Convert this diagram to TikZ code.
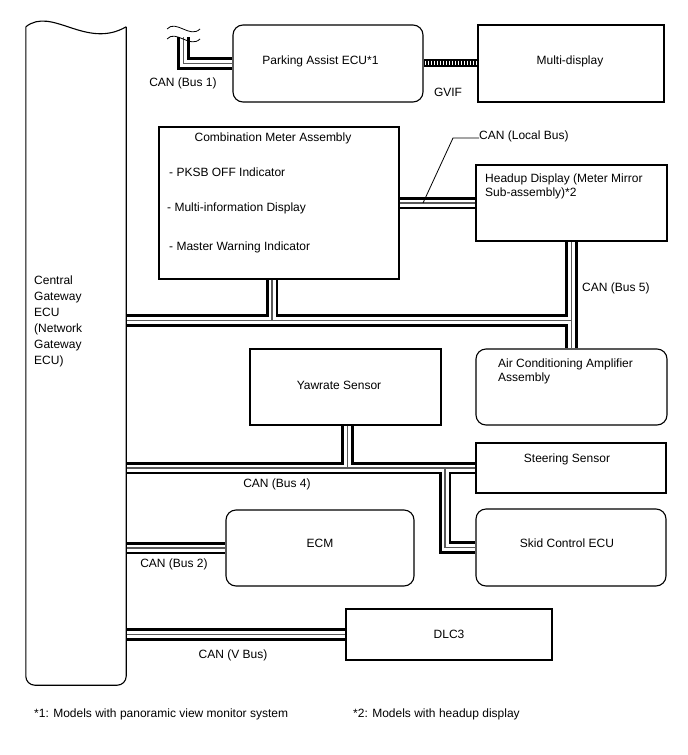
\documentclass[tikz,border=0pt]{standalone}
\usepackage{fontspec}
\setmainfont{Liberation Sans}
\usetikzlibrary{calc,backgrounds}
\begin{document}
\begin{tikzpicture}[x=1pt,y=-1pt,
  bx/.style={draw, line width=1.1pt, inner sep=0pt},
  rbx/.style={bx, rounded corners=10pt},
  txt/.style={font=\fontsize{12}{14}\selectfont, inner sep=0pt, text height=8.6pt, text depth=2.4pt},
  mtxt/.style={font=\fontsize{12}{14}\selectfont, inner sep=0pt, align=left, anchor=north west},
  cableA/.style={line width=12.5pt, black},
  cableB/.style={line width=7pt, white},
  cableC/.style={line width=1.3pt, black!65},
  thinline/.style={line width=0.8pt}]
\useasboundingbox (0,0) rectangle (688,755);

% ---- Central gateway ----
\node[minimum width=100pt, minimum height=658pt, inner sep=0pt] (gw) at (76,356) {};
\draw[line width=1.1pt, rounded corners=9pt] (gw.north east) -- (gw.south east) -- (gw.south west) -- (gw.north west);
\draw[line width=1.1pt] (gw.north west) .. controls (52,6) and (86,50) .. (gw.north east);
\node[mtxt, font=\fontsize{12}{16}\selectfont] (gwt) at (34,276) {Central\\Gateway\\ECU\\(Network\\Gateway\\ECU)};

% ---- boxes ----
\node[rbx, minimum width=190pt, minimum height=77pt] (pa) at (328,63.5) {};
\node[txt] (pat) at (320.5,61) {Parking Assist ECU*1};
\node[bx, minimum width=186pt, minimum height=77pt] (md) at (571,63.5) {};
\node[txt] (mdt) at (570,61) {Multi-display};

\node[bx, minimum width=240pt, minimum height=152pt] (cm) at (279,203) {};
\node[txt] (cmt) at (273,138) {Combination Meter Assembly};
\node[txt, anchor=west] (cm1) at (169,173) {- PKSB OFF Indicator};
\node[txt, anchor=west] (cm2) at (167,208) {- Multi-information Display};
\node[txt, anchor=west] (cm3) at (169,247) {- Master Warning Indicator};

\node[bx, minimum width=191pt, minimum height=76pt] (hud) at (571.5,203) {};
\node[mtxt] (hudt) at (485,173.5) {Headup Display (Meter Mirror\\Sub-assembly)*2};

\node[rbx, minimum width=191pt, minimum height=76pt] (ac) at (571.5,387) {};
\node[mtxt] (act) at (498,358.5) {Air Conditioning Amplifier\\Assembly};

\node[bx, minimum width=191pt, minimum height=76pt] (yaw) at (345.5,387) {};
\node[txt] (yawt) at (339,386) {Yawrate Sensor};

\node[bx, minimum width=190pt, minimum height=50pt] (steer) at (571,468) {};
\node[txt] (steert) at (567,459) {Steering Sensor};

\node[rbx, minimum width=190pt, minimum height=77pt] (skid) at (571,547.5) {};
\node[txt] (skidt) at (567,544) {Skid Control ECU};

\node[rbx, minimum width=188pt, minimum height=76pt] (ecm) at (320,548) {};
\node[txt] (ecmt) at (320,544) {ECM};

\node[bx, minimum width=206pt, minimum height=51pt] (dlc) at (449,634.5) {};
\node[txt] (dlct) at (449,635) {DLC3};

% ---- junction / free-end coordinates ----
\coordinate (b1top) at (183.5,37);
\coordinate (j5) at (hud.south |- 0,320.5);
\coordinate (jc) at (272,320.5);
\coordinate (jy) at (347.5,468);
\coordinate (js) at (445,468);

% ---- cables (twisted pairs) ----
\begin{pgfonlayer}{background}
\foreach \ly in {cableA,cableB,cableC}{
  \draw[\ly] (b1top) -- (b1top |- pa.west) -- (pa.west);
  \draw[\ly] (cm.east) -- (hud.west);
  \draw[\ly] (hud.south) -- (ac.north);
  \draw[\ly] (gw.east |- j5) -- (j5);
  \draw[\ly] (jc |- cm.south) -- (jc);
  \draw[\ly] (gw.east |- steer.west) -- (steer.west);
  \draw[\ly] (jy |- yaw.south) -- (jy);
  \draw[\ly] (js) -- (js |- skid.west) -- (skid.west);
  \draw[\ly] (gw.east |- ecm.west) -- (ecm.west);
  \draw[\ly] (gw.east |- dlc.west) -- (dlc.west);
}
\end{pgfonlayer}

% ---- wave (break) symbol on Bus 1 ----
\draw[thinline] (167,29) .. controls (176,19) and (190,39) .. (200,29);
\draw[thinline] (167,39) .. controls (176,29) and (190,49) .. (200,39);

% ---- GVIF striped link ----
\fill[black] ($(pa.east)+(0,-4.5)$) rectangle ($(md.west)+(0,3.5)$);
\foreach \i in {0,...,17}{
  \draw[white, line width=1.5pt] (425.5+3*\i,60.5) -- ++(0,4.5);
}
\node[txt] (gvif) at (448,93) {GVIF};

% ---- labels ----
\node[txt] (l1) at (183,83) {CAN (Bus 1)};
\node[txt, anchor=west] (llocal) at (479,136) {CAN (Local Bus)};
\coordinate (lk) at (453,138);
\coordinate (lt) at (423,203);
\draw[thinline] (llocal.west |- lk) -- (lk) -- (lt);
\node[txt, anchor=west] (l5) at (582,288) {CAN (Bus 5)};
\node[txt] (l4) at (277,484) {CAN (Bus 4)};
\node[txt] (l2) at (174,564) {CAN (Bus 2)};
\node[txt] (lv) at (233,655) {CAN (V Bus)};

% ---- footnotes ----
\node[txt, anchor=west] (fn1) at (34,714) {*1: Models with panoramic view monitor system};
\node[txt, anchor=west] (fn2) at (353,714) {*2: Models with headup display};
\end{tikzpicture}
\end{document}
